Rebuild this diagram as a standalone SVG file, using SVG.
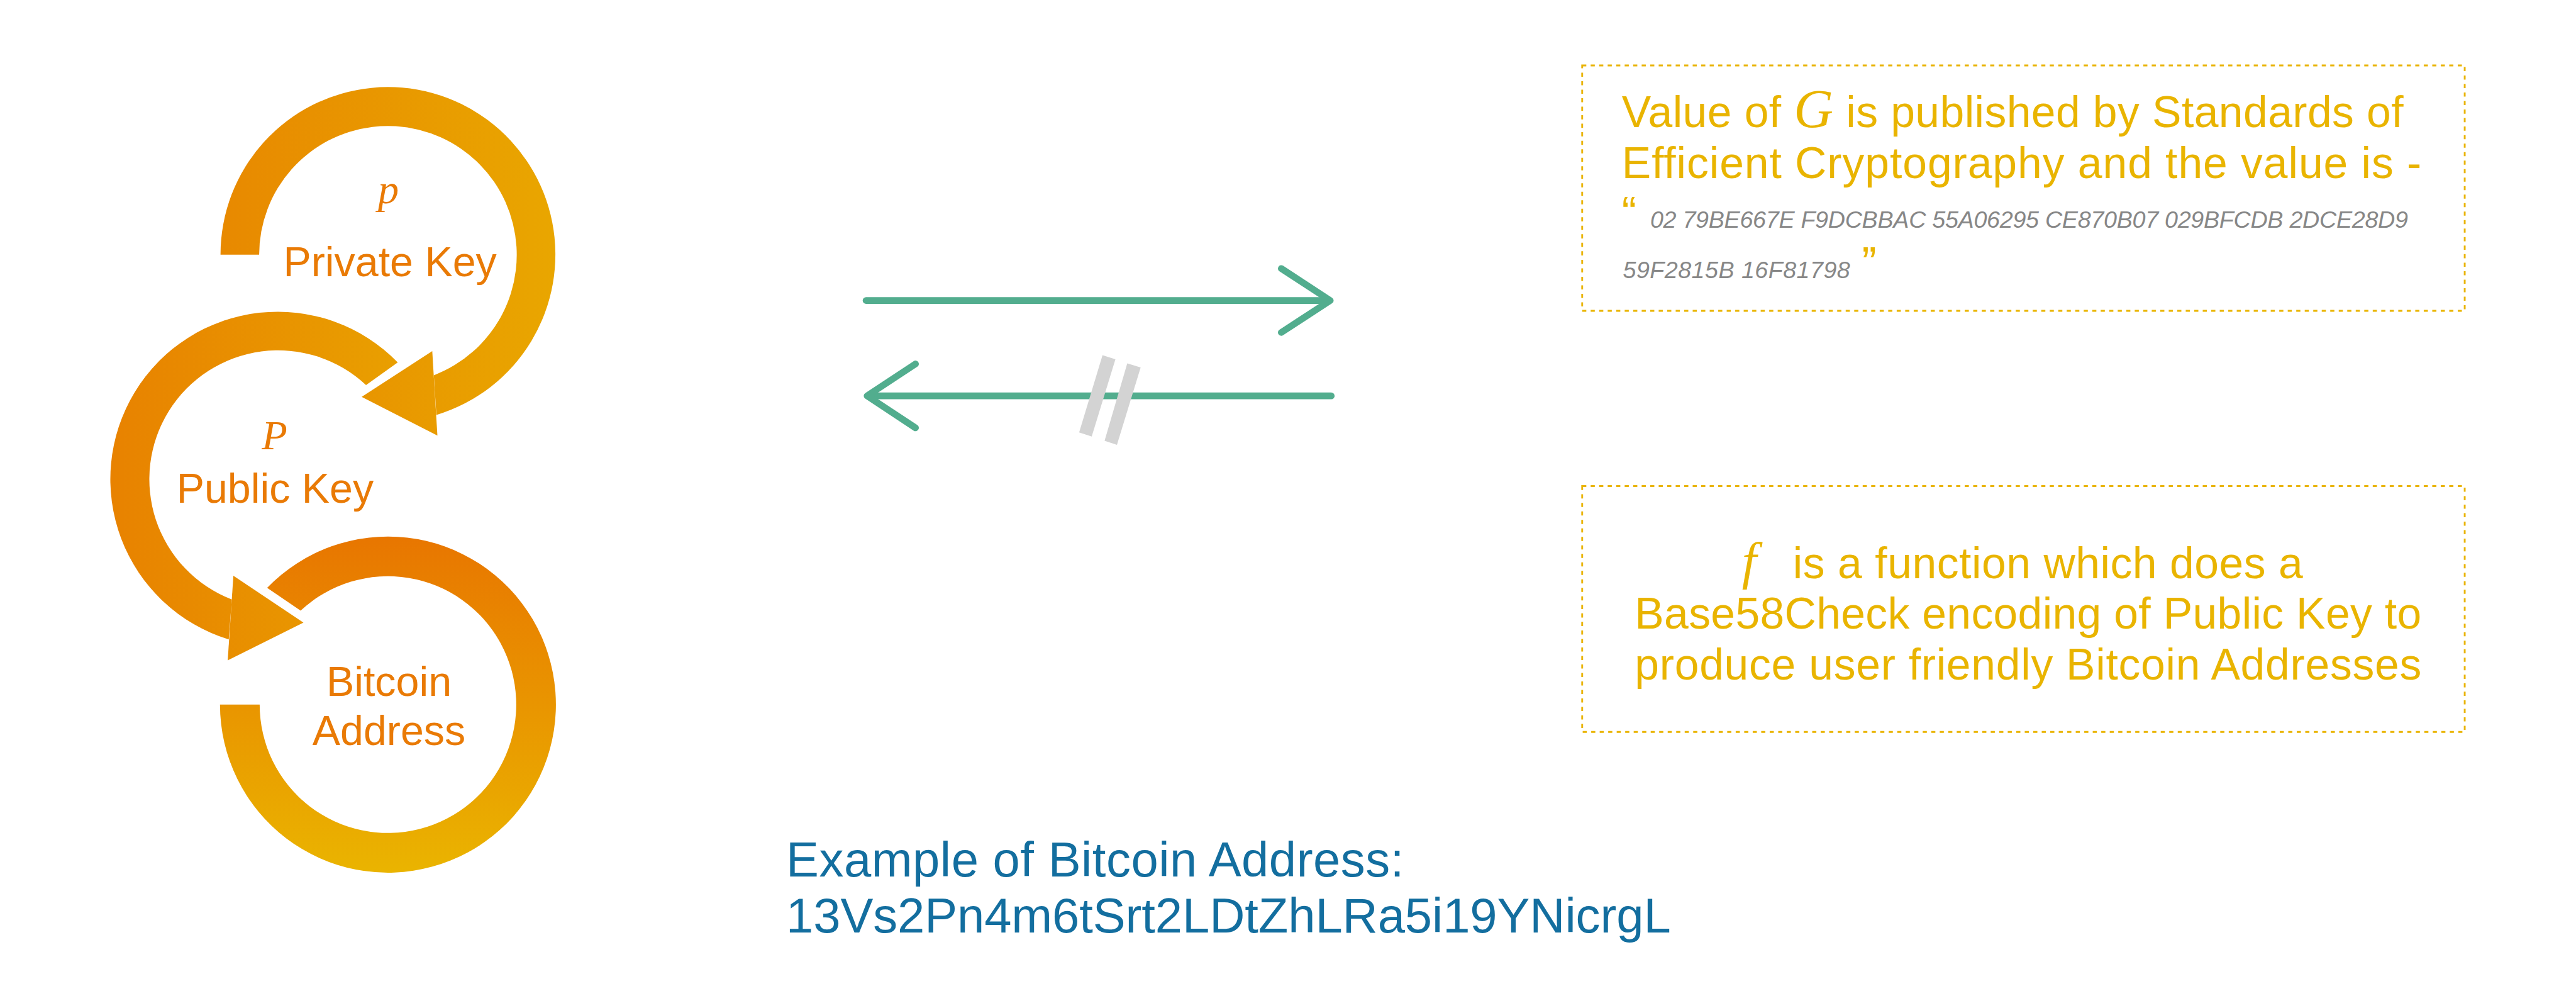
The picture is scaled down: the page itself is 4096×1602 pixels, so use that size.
<svg xmlns="http://www.w3.org/2000/svg" width="4096" height="1602" viewBox="0 0 4096 1602">
<style>
.lbl{font-family:"Liberation Sans",Arial,sans-serif;font-size:81px;fill:#E97A05;text-anchor:middle}
.math{font-family:"Liberation Serif","Times New Roman",serif;font-style:italic}
.box{fill:none;stroke:#E9B400;stroke-width:3.5;stroke-dasharray:8 8.5}
.yt{font-family:"Liberation Sans",Arial,sans-serif;font-size:85px;fill:#E9B400}
.gr{font-family:"Liberation Sans",Arial,sans-serif;font-size:46px;font-style:italic;fill:#878787}
.bt{font-family:"Liberation Sans",Arial,sans-serif;font-size:95px;fill:#136E9F}
.gline{fill:none;stroke:#52AD8E;stroke-width:13;stroke-linecap:round;stroke-linejoin:round}
.hatch{fill:#D3D3D3}
</style>
<defs>
<linearGradient id="gTop" gradientUnits="userSpaceOnUse" x1="428" y1="0" x2="1078" y2="0"><stop offset="0" stop-color="#E88900"/><stop offset="1" stop-color="#E9A600"/></linearGradient>
<linearGradient id="gMid" gradientUnits="userSpaceOnUse" x1="215" y1="0" x2="865" y2="0"><stop offset="0" stop-color="#E88200"/><stop offset="1" stop-color="#E9A400"/></linearGradient>
<linearGradient id="gBot" gradientUnits="userSpaceOnUse" x1="0" y1="1041" x2="0" y2="1693"><stop offset="0" stop-color="#E87600"/><stop offset="1" stop-color="#EAB400"/></linearGradient>
</defs>
<rect width="4096" height="1602" fill="#FFFFFF"/>
<g transform="scale(0.8192)">
<g id="node-private-key">
<path d="M428 494 A325 325 0 1 1 847 805 L842 728 A250 250 0 1 0 503 494 Z" fill="url(#gTop)"/>
<polygon points="839,681 702,770 849,845" fill="url(#gTop)"/>
<text class="lbl math" x="754" y="394" font-size="104">p</text>
<text class="lbl" x="757" y="536">Private Key</text>
</g>
<g id="node-public-key">
<path d="M772 703 A325 325 0 1 0 444 1240.5 L450 1163 A250 250 0 1 1 710.5 747 Z" fill="url(#gMid)"/>
<polygon points="453,1117 589,1208 442,1281" fill="url(#gMid)"/>
<text class="lbl math" x="533" y="871" font-size="104">P</text>
<text class="lbl" x="534" y="975">Public Key</text>
</g>
<g id="node-bitcoin-address">
<path d="M518.5 1140.5 A326 326 0 1 1 427 1367 L504 1367 A249 249 0 1 0 583.5 1184.6 Z" fill="url(#gBot)"/>
<text class="lbl" x="755" y="1350">Bitcoin</text>
<text class="lbl" x="755" y="1445">Address</text>
</g>
<g id="connectors">
<path class="gline" d="M1681 583 H2580"/>
<polyline class="gline" points="2487,521 2582,583 2487,645"/>
<path class="gline" d="M1685 768 H2584"/>
<polyline class="gline" points="1777,706 1683,768 1777,830"/>
<polygon class="hatch" points="2140,689 2165,697 2119,847 2094.6,839"/>
<polygon class="hatch" points="2188,705 2214,713 2168,863 2144,855"/>
</g>
<g id="note-g">
<rect class="box" x="3071" y="127" width="1713" height="476"/>
<text class="yt" x="3148" y="247" textLength="1517">Value of <tspan class="math" font-size="106">G</tspan> is published by Standards of</text>
<text class="yt" x="3148" y="345" textLength="1552">Efficient Cryptography and the value is -</text>
<text class="yt" x="3148" y="442">“</text>
<text class="gr" x="3203" y="442" textLength="1471">02 79BE667E F9DCBBAC 55A06295 CE870B07 029BFCDB 2DCE28D9</text>
<text class="gr" x="3150" y="540" textLength="441">59F2815B 16F81798</text>
<text class="yt" x="3614" y="540">”</text>
</g>
<g id="note-f">
<rect class="box" x="3071" y="943" width="1713" height="477"/>
<text class="yt" x="3381" y="1122"><tspan class="math" font-size="102">f</tspan></text>
<text class="yt" x="3480" y="1122" textLength="990">is a function which does a</text>
<text class="yt" x="3173" y="1220" textLength="1527">Base58Check encoding of Public Key to</text>
<text class="yt" x="3173" y="1318" textLength="1527">produce user friendly Bitcoin Addresses</text>
</g>
<g id="example">
<text class="bt" x="1526" y="1700" textLength="1199">Example of Bitcoin Address:</text>
<text class="bt" x="1526" y="1809" textLength="1717">13Vs2Pn4m6tSrt2LDtZhLRa5i19YNicrgL</text>
</g>
</g>
</svg>
